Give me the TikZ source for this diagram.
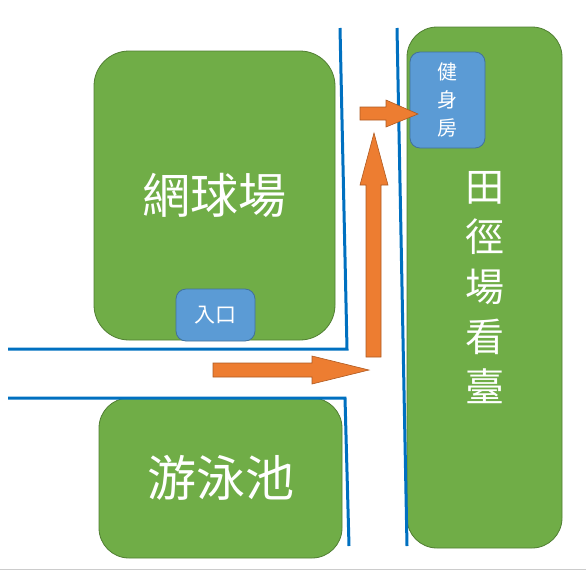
\documentclass[tikz,border=0pt]{standalone}
\usepackage{fontspec}
\newfontfamily\cjk{Noto Sans CJK TC}
\usetikzlibrary{positioning}
\definecolor{fieldgreen}{HTML}{70AD47}
\definecolor{fieldedge}{HTML}{507E32}
\definecolor{roomblue}{HTML}{5B9BD5}
\definecolor{roomedge}{HTML}{41719C}
\definecolor{roadblue}{HTML}{0070C0}
\definecolor{walkorange}{HTML}{ED7D31}
\definecolor{walkedge}{HTML}{AE5A21}

\begin{document}
\begin{tikzpicture}[x=1pt, y=-1pt,
      field/.style={draw=fieldedge, fill=fieldgreen, line width=0.8pt, text=white,
                    align=center, inner sep=0pt},
      room/.style={draw=roomedge, fill=roomblue, line width=0.8pt, text=white,
                   align=center, inner sep=0pt, rounded corners=10pt},
      road/.style={draw=roadblue, line width=3pt},
      walk/.style={draw=walkedge, fill=walkorange, line width=0.6pt, line join=miter}]
    \useasboundingbox (0,0) rectangle (586,571);
    \draw[black!20, line width=1pt] (0,569) -- (586,569);
    % --- fields ---
    \node[field, rounded corners=35pt, minimum width=241pt, minimum height=289pt,
          font=\cjk\fontsize{48}{50}\selectfont] (tennis) at (214.5,195.5) {網球場};
    \node[field, rounded corners=30pt, minimum width=243pt, minimum height=160pt,
          font=\cjk\fontsize{49}{50}\selectfont] (pool) at (220.5,478) {游泳池};
    \node[field, rounded corners=30pt, minimum width=155pt, minimum height=521pt,
          font=\cjk\fontsize{39}{50}\selectfont] (track) at (484.5,287.5) {田\\徑\\場\\看\\臺};
    % --- rooms ---
    \node[room, minimum width=79pt, minimum height=52pt,
          font=\cjk\fontsize{21}{22}\selectfont] (entry) at (215.5,315) {入口};
    \node[room, minimum width=75pt, minimum height=96pt,
          font=\cjk\fontsize{20}{28}\selectfont] (gym) at (447.5,100) {健\\身\\房};
    % --- roads ---
    \draw[road] (8,349) -- (347,349) -- (340,28);
    \draw[road] (8,398) -- (345,398) -- (349,546);
    \draw[road] (397,28) -- (407,546);
    % --- walking route ---
    \draw[walk] (213,363) -- (312,363) -- (312,356) -- (369,370) -- (312,384)
                -- (312,377) -- (213,377) -- cycle;
    \draw[walk] (366,357) -- (366,185) -- (360,185) -- (374,133) -- (388,185)
                -- (381,185) -- (381,357) -- cycle;
    \draw[walk] (360,107) -- (386,107) -- (386,100) -- (418,114) -- (386,127)
                -- (386,120) -- (360,120) -- cycle;
  \end{tikzpicture}
\end{document}
